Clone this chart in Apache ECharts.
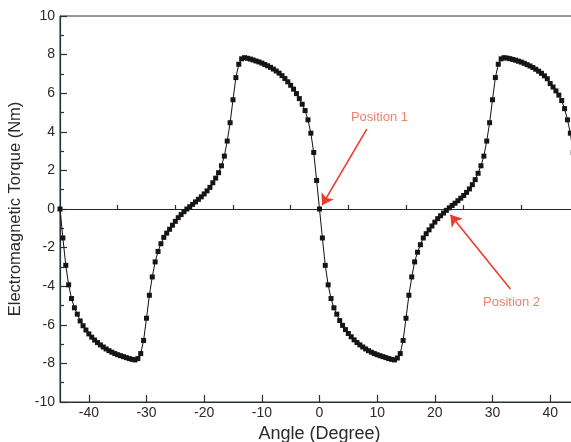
<!DOCTYPE html>
<html>
<head>
<meta charset="utf-8">
<script src="https://cdn.jsdelivr.net/npm/echarts@6/dist/echarts.min.js"></script>
<style>
html,body{margin:0;padding:0;background:#fff;}
#chart{width:571px;height:442px;}
</style>
</head>
<body>
<div id="chart"></div>
<script>
// Angle (degree) sample positions
var angles = [
 -45,-44.5,-44,-43.5,-43,-42.5,-42,-41.5,-41,-40.5,
 -40,-39.5,-39,-38.5,-38,-37.5,-37,-36.5,-36,-35.5,
 -35,-34.5,-34,-33.5,-33,-32.5,-32,-31.5,-31,-30.5,
 -30,-29.5,-29,-28.5,-28,-27.5,-27,-26.5,-26,-25.5,
 -25,-24.5,-24,-23.5,-23,-22.5,-22,-21.5,-21,-20.5,
 -20,-19.5,-19,-18.5,-18,-17.5,-17,-16.5,-16,-15.5,
 -15,-14.5,-14,-13.5,-13,-12.5,-12,-11.5,-11,-10.5,
 -10,-9.5,-9,-8.5,-8,-7.5,-7,-6.5,-6,-5.5,
 -5,-4.5,-4,-3.5,-3,-2.5,-2,-1.5,-1,-0.5,
 0,0.5,1,1.5,2,2.5,3,3.5,4,4.5,
 5,5.5,6,6.5,7,7.5,8,8.5,9,9.5,
 10,10.5,11,11.5,12,12.5,13,13.5,14,14.5,
 15,15.5,16,16.5,17,17.5,18,18.5,19,19.5,
 20,20.5,21,21.5,22,22.5,23,23.5,24,24.5,
 25,25.5,26,26.5,27,27.5,28,28.5,29,29.5,
 30,30.5,31,31.5,32,32.5,33,33.5,34,34.5,
 35,35.5,36,36.5,37,37.5,38,38.5,39,39.5,
 40,40.5,41,41.5,42,42.5,43,43.5,44,44.5,
 45
];

// Electromagnetic torque (Nm), -45 .. -0.5 deg
var torqueFirstHalf = [
 0,-1.5,-2.92,-3.93,-4.64,-5.12,-5.45,-5.8,-6.05,-6.27,
 -6.47,-6.64,-6.79,-6.92,-7.04,-7.15,-7.25,-7.34,-7.42,-7.49,
 -7.55,-7.6,-7.65,-7.7,-7.75,-7.79,-7.82,-7.75,-7.49,-6.81,
 -5.66,-4.47,-3.52,-2.74,-2.2,-1.8,-1.47,-1.25,-1.05,-0.84,
 -0.64,-0.45,-0.29,-0.14,0.0,0.12,0.24,0.37,0.5,0.63,
 0.78,0.94,1.12,1.36,1.6,1.88,2.24,2.74,3.52,4.47,
 5.66,6.81,7.5,7.78,7.84,7.81,7.77,7.72,7.67,7.62,
 7.56,7.49,7.42,7.34,7.25,7.15,7.04,6.91,6.76,6.59,
 6.41,6.21,5.98,5.72,5.43,5.1,4.62,3.93,2.93,1.48
];

// Electromagnetic torque (Nm), 0 .. 45 deg
var torqueSecondHalf = [
 0,-1.5,-2.92,-3.93,-4.64,-5.12,-5.45,-5.78,-6.03,-6.25,
 -6.45,-6.62,-6.78,-6.92,-7.04,-7.15,-7.25,-7.34,-7.42,-7.49,
 -7.55,-7.6,-7.65,-7.7,-7.75,-7.79,-7.82,-7.72,-7.49,-6.81,
 -5.66,-4.47,-3.52,-2.74,-2.24,-1.85,-1.5,-1.28,-1.08,-0.88,
 -0.68,-0.5,-0.35,-0.21,-0.07,0.06,0.18,0.3,0.43,0.56,
 0.7,0.86,1.04,1.26,1.52,1.85,2.24,2.74,3.52,4.47,
 5.66,6.81,7.5,7.78,7.84,7.82,7.79,7.75,7.71,7.66,
 7.61,7.55,7.48,7.41,7.33,7.24,7.14,7.03,6.9,6.75,
 6.5,6.32,6.12,5.9,5.62,5.2,4.62,3.93,2.93,1.48,
 0
];

var xMajorTicks = [-40,-30,-20,-10,0,10,20,30,40];
var xMinorTicks = [-35,-25,-15,-5,5,15,25,35];

// Annotations: [textX, textY, arrowStartX, arrowStartY, tipX, tipY]
var annotationNames = ['Position 1', 'Position 2'];
var annotationText = [[10.4, 4.75], [33.3, -4.82]];
var annotationArrowStart = [[8.2, 4.14], [33.1, -4.14]];
var annotationArrowTip = [[0.45, 0.2], [22.7, -0.3]];

var torque = torqueFirstHalf.concat(torqueSecondHalf);
var seriesData = angles.map(function (a, i) { return [a, torque[i]]; });

var FONT = "'Liberation Sans', Arial, Helvetica, sans-serif";
var AXIS_COLOR = '#26313b';
var TEXT_COLOR = '#2a2a2a';
var RED = '#ec3b2c';

var chart = echarts.init(document.getElementById('chart'), null, {renderer: 'canvas'});
chart.setOption({
  animation: false,
  backgroundColor: '#ffffff',
  textStyle: {fontFamily: FONT},
  grid: {
    left: 60, right: -8, top: 16, bottom: 40,
    show: true, borderColor: AXIS_COLOR, borderWidth: 1,
    containLabel: false, outerBoundsMode: 'none'
  },
  xAxis: [{
    type: 'value', min: -45, max: 45, position: 'bottom',
    name: 'Angle (Degree)', nameLocation: 'middle', nameGap: 20,
    nameTextStyle: {fontSize: 18, color: TEXT_COLOR, fontFamily: FONT},
    axisLine: {show: true, onZero: false, lineStyle: {color: AXIS_COLOR, width: 1.2}},
    axisTick: {show: true, inside: true, length: 7, customValues: xMajorTicks, lineStyle: {color: AXIS_COLOR, width: 1.2}},
    axisLabel: {show: true, customValues: xMajorTicks, fontSize: 14, color: TEXT_COLOR, margin: 4, fontFamily: FONT},
    splitLine: {show: false}
  }, {
    type: 'value', min: -45, max: 45, position: 'bottom', offset: 0,
    axisLine: {show: false},
    axisTick: {show: true, inside: true, length: 4, customValues: xMinorTicks, lineStyle: {color: AXIS_COLOR, width: 1.2}},
    axisLabel: {show: false},
    splitLine: {show: false}
  }],
  yAxis: {
    type: 'value', min: -10, max: 10, interval: 2,
    name: 'Electromagnetic Torque (Nm)', nameLocation: 'middle', nameGap: 34,
    nameTextStyle: {fontSize: 16.5, color: TEXT_COLOR, fontFamily: FONT},
    axisLine: {show: true, onZero: false, lineStyle: {color: AXIS_COLOR, width: 1.2}},
    axisTick: {show: true, inside: true, length: 7, lineStyle: {color: AXIS_COLOR, width: 1.2}},
    minorTick: {show: true, splitNumber: 2, length: 4, lineStyle: {color: AXIS_COLOR, width: 1.2}},
    axisLabel: {fontSize: 14, color: TEXT_COLOR, margin: 5, fontFamily: FONT},
    splitLine: {show: false}
  },
  series: [{
    type: 'line',
    data: seriesData,
    xAxisIndex: 0,
    symbol: 'rect',
    symbolSize: 5,
    showAllSymbol: true,
    lineStyle: {color: '#111111', width: 1},
    itemStyle: {color: '#151515'},
    z: 3,
    markLine: {
      silent: true,
      symbol: ['none', 'none'],
      label: {show: false},
      lineStyle: {color: '#1c2a36', width: 1.2, type: 'solid'},
      data: [{yAxis: 0}],
      z: 2
    }
  }, {
    type: 'scatter',
    xAxisIndex: 0,
    symbolSize: 0,
    silent: true,
    z: 5,
    data: annotationNames.map(function (n, i) { return {name: n, value: annotationText[i]}; }),
    label: {
      show: true, position: 'inside', formatter: '{b}',
      fontSize: 13, color: '#e9604a', fontFamily: FONT
    },
    markLine: {
      silent: true,
      symbol: ['none', 'arrow'],
      symbolSize: 11,
      label: {show: false},
      lineStyle: {color: RED, width: 1.6, type: 'solid'},
      data: annotationNames.map(function (n, i) {
        return [{coord: annotationArrowStart[i]}, {coord: annotationArrowTip[i]}];
      })
    }
  }]
});
</script>
</body>
</html>
